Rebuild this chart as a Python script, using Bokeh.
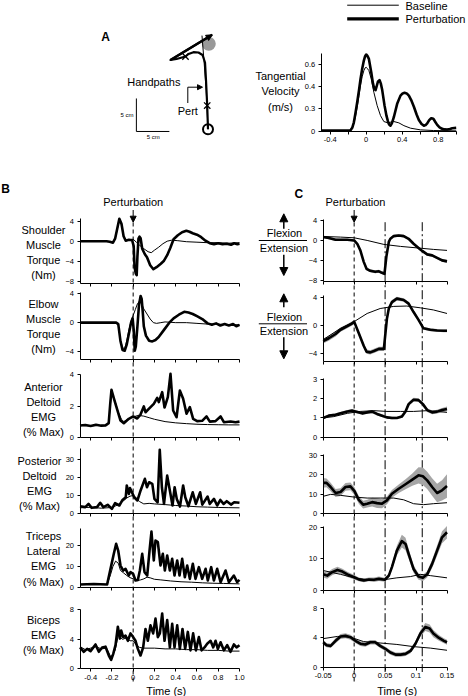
from bokeh.plotting import figure
from bokeh.models import Range1d, LinearAxis, FixedTicker, Arrow, NormalHead
from bokeh.core.properties import value
from bokeh.embed import file_html
from bokeh.resources import INLINE

# ======================= DATA =======================
# ---- Panel A: tangential velocity (m/s) vs time (s)
vel_t_base = [-0.5, -0.3, -0.18, -0.16, -0.137, -0.12, -0.1, -0.08, -0.063, -0.045,
              -0.026, -0.012, 0, 0.012, 0.03, 0.056, 0.085, 0.122, 0.159, 0.196,
              0.241, 0.275, 0.307, 0.363, 0.419, 0.493, 0.604, 0.75, 1.0]
vel_base = [0.003, 0.003, 0.005, 0.03, 0.066, 0.13, 0.216, 0.32, 0.41, 0.49,
            0.545, 0.57, 0.575, 0.565, 0.545, 0.47, 0.35, 0.23, 0.14, 0.087,
            0.075, 0.082, 0.087, 0.075, 0.05, 0.027, 0.012, 0.006, 0.003]
vel_t_pert = [-0.5, -0.3, -0.2, -0.174, -0.155, -0.137, -0.12, -0.1, -0.08, -0.063,
              -0.045, -0.026, -0.012, 0, 0.012, 0.03, 0.056, 0.075, 0.09, 0.104,
              0.115, 0.13, 0.148, 0.162, 0.178, 0.204, 0.225, 0.241, 0.255, 0.27,
              0.285, 0.307, 0.344, 0.381, 0.405, 0.426, 0.45, 0.474, 0.5, 0.53,
              0.56, 0.585, 0.615, 0.641, 0.66, 0.678, 0.7, 0.722, 0.74, 0.752,
              0.77, 0.789, 0.815, 0.844, 0.87, 0.9, 0.93, 0.956, 1.0]
vel_pert = [0.005, 0.005, 0.005, 0.008, 0.03, 0.08, 0.16, 0.26, 0.37, 0.47,
            0.56, 0.635, 0.675, 0.69, 0.68, 0.65, 0.53, 0.43, 0.38, 0.37,
            0.40, 0.445, 0.46, 0.43, 0.37, 0.23, 0.14, 0.09, 0.06, 0.05,
            0.07, 0.126, 0.246, 0.32, 0.34, 0.345, 0.34, 0.32, 0.28, 0.22,
            0.15, 0.10, 0.065, 0.05, 0.055, 0.07, 0.10, 0.117, 0.115, 0.105,
            0.08, 0.057, 0.035, 0.021, 0.016, 0.015, 0.02, 0.027, 0.03]
vel_x_ticks = [-0.4, 0, 0.4, 0.8]
vel_x_labels = ["-0.4", "0", "0.4", "0.8"]
vel_x_minor = [-0.2, 0.2, 0.6, 1.0]
vel_y_ticks = [0, 0.2, 0.4, 0.6]
vel_y_labels = ["0", "0.3", "0.4", "0.6"]

# ---- Panel A: hand paths (cm, origin = start position)
hand_pert_x = [0, -0.12, -0.3, -0.45, -0.83, -1.44, -2.2, -2.95, -3.41, -4.77, -5.68, 0.64]
hand_pert_y = [0, 3.6, 7.39, 10.12, 11.26, 11.64, 11.68, 11.41, 11.03, 10.65, 10.5, 14.32]
hand_base_x = [0, -0.27, -0.61, -0.91]
hand_base_y = [0, 5.88, 10.42, 14.2]
target_x, target_y = [0.12], [12.95]
start_x, start_y = [0], [0]
cross_x = [-0.12, -3.41]
cross_y = [3.6, 11.03]
scale_cm = 5

# ---- Panel B: time (s)
b_x_ticks = [-0.4, -0.2, 0, 0.2, 0.4, 0.6, 0.8, 1.0]
b_x_labels = ["-0.4", "-0.2", "0", "0.2", "0.4", "0.6", "0.8", "1.0"]
pert_time = [0]

# shoulder muscle torque (Nm)
b_sh_t_pert = [-0.5, -0.4, -0.3, -0.25, -0.22, -0.19, -0.17, -0.15, -0.13, -0.11,
               -0.09, -0.07, -0.04, -0.01, 0.005, 0.013, 0.025, 0.033, 0.04, 0.05,
               0.06, 0.07, 0.085, 0.11, 0.13, 0.16, 0.19, 0.22, 0.26, 0.29,
               0.32, 0.35, 0.38, 0.42, 0.46, 0.5, 0.53, 0.56, 0.6, 0.64,
               0.68, 0.72, 0.76, 0.8, 0.84, 0.88, 0.92, 0.95, 0.98, 1.0]
b_sh_pert = [0, 0, 0, 0, -0.1, -0.3, 0.5, 2.5, 4.5, 3.5,
             1.0, 0.1, 0.3, 0.2, -1.0, -5.2, -6.5, -6.8, -3.0, 0.5,
             0.9, 0.6, -1.5, -2.6, -3.2, -4.8, -5.6, -5.2, -4.5, -3.9,
             -2.8, -1.3, 0.4, 1.2, 1.8, 2.1, 1.9, 1.6, 1.3, 0.8,
             0.1, -0.4, -0.6, -0.4, -0.6, -0.5, -0.7, -0.4, -0.6, -0.5]
b_sh_t_base = [-0.5, -0.3, -0.22, -0.19, -0.17, -0.15, -0.13, -0.11, -0.09, -0.07,
               -0.04, 0.0, 0.03, 0.06, 0.1, 0.14, 0.17, 0.2, 0.24, 0.28,
               0.32, 0.36, 0.42, 0.5, 0.6, 0.7, 0.8, 0.9, 1.0]
b_sh_base = [0, 0, -0.1, -0.3, 0.4, 2.3, 4.3, 3.3, 1.0, 0.2,
             0.3, 0.4, -0.2, -0.8, -1.5, -2.1, -2.3, -1.8, -1.2, -0.5,
             0.0, 0.2, 0.1, -0.1, -0.2, -0.3, -0.3, -0.4, -0.3]
b_sh_ticks = [-8, -4, 0, 4]

# elbow muscle torque (Nm)
b_el_t_pert = [-0.5, -0.3, -0.2, -0.16, -0.14, -0.12, -0.1, -0.08, -0.06, -0.04,
               -0.02, -0.005, 0.005, 0.015, 0.025, 0.04, 0.055, 0.07, 0.08, 0.09,
               0.1, 0.12, 0.15, 0.18, 0.21, 0.24, 0.29, 0.34, 0.38, 0.43,
               0.48, 0.52, 0.56, 0.6, 0.65, 0.7, 0.74, 0.78, 0.82, 0.86,
               0.9, 0.94, 0.97, 1.0]
b_el_pert = [0, 0, 0, 0, -0.2, -2.5, -3.8, -3.9, -3.0, -1.5,
             0.0, 0.6, -1.0, -3.9, -3.3, -0.5, 2.5, 3.7, 3.3, 1.5,
             -0.5, -1.8, -2.5, -2.6, -2.4, -2.0, -1.0, 0.0, 0.6, 1.1,
             1.5, 1.4, 1.2, 0.9, 0.5, -0.1, -0.3, -0.1, -0.4, -0.2,
             -0.4, -0.2, -0.5, -0.3]
b_el_t_base = [-0.5, -0.3, -0.16, -0.14, -0.12, -0.1, -0.08, -0.06, -0.04, -0.02,
               0.0, 0.02, 0.04, 0.06, 0.08, 0.1, 0.13, 0.16, 0.19, 0.22,
               0.26, 0.3, 0.4, 0.5, 0.6, 0.7, 0.8, 0.9, 1.0]
b_el_base = [0, 0, 0, -0.3, -2.3, -3.5, -3.6, -2.5, -1.0, 0.2,
             1.0, 1.8, 2.6, 3.0, 2.6, 1.9, 1.2, 0.5, 0.0, -0.1,
             0.0, 0.1, 0.0, 0.0, -0.1, -0.2, -0.2, -0.3, -0.3]
b_el_ticks = [-4, 0, 4]

# anterior deltoid EMG (% max)
b_ad_t_pert = [-0.5, -0.45, -0.4, -0.35, -0.3, -0.26, -0.23, -0.215, -0.204, -0.19,
               -0.18, -0.157, -0.119, -0.088, -0.041, 0.0, 0.038, 0.069, 0.1, 0.116,
               0.147, 0.194, 0.226, 0.241, 0.273, 0.295, 0.326, 0.351, 0.376, 0.408,
               0.439, 0.47, 0.502, 0.533, 0.564, 0.602, 0.649, 0.69, 0.721, 0.774,
               0.822, 0.853, 0.916, 0.963, 1.0]
b_ad_pert = [0.75, 0.78, 0.72, 0.8, 0.74, 0.76, 0.9, 2.2, 3.04, 2.7,
             2.46, 1.93, 1.07, 0.9, 1.18, 1.33, 1.2, 1.45, 1.97, 1.6,
             1.82, 2.14, 2.52, 2.25, 2.89, 1.9, 2.57, 4.06, 1.71, 1.28,
             2.99, 2.46, 1.5, 1.93, 1.18, 1.03, 1.05, 1.33, 1.0, 1.03,
             1.33, 0.96, 1.01, 0.96, 1.0]
b_ad_t_base = [-0.5, -0.4, -0.3, -0.25, -0.23, -0.215, -0.204, -0.19, -0.17, -0.14,
               -0.11, -0.088, -0.05, 0.0, 0.05, 0.1, 0.15, 0.2, 0.3, 0.4,
               0.5, 0.6, 0.7, 0.8, 0.9, 1.0]
b_ad_base = [0.75, 0.73, 0.76, 0.75, 0.9, 2.0, 2.75, 2.6, 2.3, 1.6,
             1.15, 1.0, 1.15, 1.3, 1.4, 1.35, 1.25, 1.15, 1.0, 0.92,
             0.87, 0.83, 0.81, 0.8, 0.79, 0.79]
b_ad_ticks = [0, 2, 4]

# posterior deltoid EMG (% max)
b_pd_t_pert = [-0.5, -0.45, -0.42, -0.39, -0.34, -0.31, -0.28, -0.24, -0.2, -0.17,
               -0.13, -0.1, -0.07, -0.06, -0.04, -0.03, -0.01, 0.01, 0.04, 0.07,
               0.11, 0.13, 0.15, 0.18, 0.2, 0.23, 0.25, 0.27, 0.29, 0.32,
               0.345, 0.37, 0.39, 0.41, 0.44, 0.47, 0.49, 0.52, 0.56, 0.59,
               0.63, 0.65, 0.7, 0.72, 0.76, 0.79, 0.82, 0.85, 0.88, 0.92,
               0.95, 1.0]
b_pd_pert = [3.9, 3.4, 5.2, 3.0, 3.4, 5.8, 3.4, 4.7, 2.4, 5.6,
             4.3, 7.4, 8.9, 15.5, 10.8, 14.0, 11.5, 8.9, 7.1, 12.7,
             19.2, 14.5, 17.3, 16.4, 8.0, 6.1, 35.4, 14.5, 5.2, 21.0,
             12.7, 4.3, 14.5, 8.0, 3.7, 15.5, 8.9, 3.9, 11.7, 5.2,
             11.7, 4.8, 9.3, 5.2, 8.0, 4.3, 7.4, 5.2, 6.7, 4.8,
             6.1, 5.8]
b_pd_t_base = [-0.5, -0.4, -0.3, -0.2, -0.15, -0.1, -0.06, -0.03, 0.0, 0.03,
               0.06, 0.1, 0.15, 0.2, 0.3, 0.4, 0.5, 0.6, 0.7, 0.8,
               0.9, 1.0]
b_pd_base = [3.0, 3.3, 2.8, 3.2, 4.5, 6.5, 8.5, 9.5, 9.9, 8.5,
             6.5, 5.2, 5.5, 5.2, 4.8, 4.3, 4.0, 3.6, 3.4, 3.2,
             3.1, 3.0]
b_pd_ticks = [0, 10, 20, 30]

# triceps lateral EMG (% max)
b_tr_t_pert = [-0.5, -0.37, -0.245, -0.213, -0.182, -0.16, -0.141, -0.119, -0.094, -0.072,
               -0.041, -0.025, 0.0, 0.022, 0.044, 0.063, 0.085, 0.107, 0.132, 0.154,
               0.172, 0.194, 0.21, 0.232, 0.257, 0.279, 0.298, 0.32, 0.345, 0.367,
               0.389, 0.414, 0.436, 0.461, 0.486, 0.508, 0.533, 0.561, 0.586, 0.618,
               0.649, 0.681, 0.702, 0.734, 0.759, 0.79, 0.822, 0.869, 0.9, 0.947,
               0.978, 1.0]
b_tr_pert = [1.3, 1.5, 1.3, 8.8, 16.0, 20.8, 17.6, 10.4, 8.0, 8.8,
             5.6, 7.2, 6.4, 3.2, 3.5, 8.0, 16.0, 7.2, 5.6, 17.6,
             26.7, 12.8, 22.4, 21.6, 10.4, 16.0, 8.0, 15.2, 8.0, 13.6,
             5.6, 12.8, 5.6, 13.6, 4.8, 10.4, 4.0, 11.2, 4.0, 9.6,
             4.0, 8.8, 3.2, 9.6, 3.2, 8.8, 2.4, 8.0, 2.4, 5.6,
             2.4, 3.5]
b_tr_t_base = [-0.5, -0.37, -0.245, -0.213, -0.19, -0.165, -0.14, -0.119, -0.094, -0.06,
               -0.03, 0.0, 0.04, 0.07, 0.1, 0.13, 0.16, 0.2, 0.26, 0.35,
               0.45, 0.55, 0.65, 0.75, 0.85, 1.0]
b_tr_base = [1.3, 1.5, 1.3, 6.0, 10.0, 12.5, 11.5, 8.0, 7.0, 5.6,
             4.6, 4.0, 3.2, 3.5, 4.0, 4.8, 4.5, 3.8, 3.5, 3.0,
             2.6, 2.4, 2.1, 1.9, 1.8, 1.6]
b_tr_ticks = [0, 10, 20]

# biceps EMG (% max)
b_bi_t_pert = [-0.5, -0.464, -0.433, -0.401, -0.354, -0.323, -0.292, -0.26, -0.229, -0.207,
               -0.188, -0.166, -0.144, -0.125, -0.113, -0.094, -0.072, -0.05, -0.025, 0.0,
               0.022, 0.044, 0.069, 0.094, 0.116, 0.138, 0.163, 0.188, 0.21, 0.232,
               0.251, 0.273, 0.295, 0.32, 0.345, 0.367, 0.389, 0.414, 0.439, 0.464,
               0.489, 0.514, 0.539, 0.564, 0.59, 0.618, 0.643, 0.671, 0.696, 0.728,
               0.753, 0.775, 0.796, 0.822, 0.853, 0.884, 0.916, 0.947, 0.972, 1.0]
b_bi_pert = [2.9, 2.3, 2.7, 2.4, 3.3, 2.3, 2.9, 3.0, 1.8, 1.2,
             2.0, 3.2, 5.7, 4.1, 5.2, 4.3, 4.5, 3.8, 4.8, 4.3,
             3.8, 2.7, 1.8, 2.9, 5.4, 3.8, 5.9, 4.8, 6.8, 4.3,
             4.8, 7.5, 3.8, 6.6, 2.9, 6.1, 2.9, 5.9, 2.7, 5.4,
             2.7, 5.0, 2.5, 4.8, 2.5, 4.3, 2.5, 2.9, 3.4, 3.8,
             2.9, 3.8, 2.7, 3.6, 2.5, 3.2, 2.3, 3.3, 2.9, 3.2]
b_bi_t_base = [-0.5, -0.45, -0.4, -0.35, -0.3, -0.25, -0.21, -0.17, -0.14, -0.1,
               -0.06, -0.03, 0.0, 0.03, 0.06, 0.1, 0.2, 0.3, 0.4, 0.5,
               0.6, 0.7, 0.8, 0.9, 1.0]
b_bi_base = [3.0, 2.6, 2.8, 3.0, 2.7, 2.8, 1.6, 2.5, 4.5, 4.0,
             4.2, 3.8, 3.8, 3.2, 2.9, 2.8, 2.8, 2.7, 2.7, 2.6,
             2.6, 2.5, 2.5, 2.4, 2.4]
b_bi_ticks = [0, 4, 8]

# ---- Panel C: time (s), mean (thick) with s.e. band, baseline (thin)
c_x_ticks = [-0.05, 0, 0.05, 0.1, 0.15]
c_x_labels = ["-0.05", "0", "0.05", "0.1", "0.15"]
c_events = [0.05, 0.11]

c_sh_t_pert = [-0.05, -0.041, -0.03, -0.022, -0.011, 0.0, 0.005, 0.01, 0.0155, 0.02,
               0.026, 0.034, 0.04, 0.045, 0.049, 0.052, 0.056, 0.0585, 0.064, 0.072,
               0.08, 0.088, 0.096, 0.104, 0.11, 0.118, 0.126, 0.134, 0.142, 0.15]
c_sh_pert = [0.67, 0.47, 0.13, 0.13, 0.13, 0.0, -0.67, -2.0, -4.3, -5.7,
             -6.1, -6.3, -6.2, -6.5, -6.7, -3.3, -0.3, 0.33, 0.87, 1.0,
             0.87, 0.33, -0.67, -1.5, -2.1, -2.8, -3.0, -3.5, -4.0, -4.2]
c_sh_se = [0.25, 0.25, 0.25, 0.2, 0.2, 0.2, 0.2, 0.25, 0.3, 0.3,
           0.3, 0.3, 0.3, 0.3, 0.3, 0.3, 0.3, 0.25, 0.25, 0.25,
           0.25, 0.25, 0.25, 0.25, 0.25, 0.25, 0.25, 0.25, 0.3, 0.3]
c_sh_t_base = [-0.05, -0.022, 0.0, 0.021, 0.048, 0.075, 0.102, 0.128, 0.15]
c_sh_base = [0.8, 0.67, 0.53, 0.0, -0.8, -1.2, -1.5, -1.8, -2.0]

c_el_t_pert = [-0.05, -0.041, -0.03, -0.022, -0.011, -0.003, 0.0, 0.0075, 0.0156, 0.02,
               0.026, 0.032, 0.04, 0.048, 0.0495, 0.053, 0.056, 0.061, 0.069, 0.08,
               0.088, 0.096, 0.104, 0.112, 0.123, 0.134, 0.145, 0.15]
c_el_pert = [-2.2, -1.8, -1.2, -0.6, -0.1, 0.3, 0.55, -1.1, -2.9, -3.7,
             -3.8, -3.6, -3.3, -3.3, -2.0, 1.0, 2.4, 3.3, 3.8, 3.6,
             3.1, 1.9, 0.8, -0.4, -0.6, -0.7, -0.75, -0.75]
c_el_se = [0.35, 0.35, 0.35, 0.3, 0.3, 0.3, 0.3, 0.3, 0.3, 0.3,
           0.3, 0.3, 0.3, 0.3, 0.3, 0.3, 0.3, 0.3, 0.25, 0.25,
           0.25, 0.25, 0.25, 0.2, 0.2, 0.2, 0.2, 0.2]
c_el_t_base = [-0.05, -0.022, 0.0, 0.021, 0.042, 0.064, 0.085, 0.107, 0.128, 0.15]
c_el_base = [-2.0, -0.4, 0.55, 1.7, 2.4, 2.7, 2.75, 2.5, 2.2, 1.7]

c_ad_t_pert = [-0.05, -0.041, -0.03, -0.022, -0.011, -0.003, 0.005, 0.013, 0.021, 0.029,
               0.037, 0.045, 0.053, 0.061, 0.069, 0.077, 0.083, 0.088, 0.096, 0.104,
               0.111, 0.118, 0.126, 0.134, 0.142, 0.15]
c_ad_pert = [1.0, 1.12, 1.17, 1.24, 1.34, 1.38, 1.31, 1.24, 1.29, 1.33,
             1.21, 1.12, 1.03, 1.0, 1.0, 1.07, 1.34, 1.72, 1.95, 1.93,
             1.72, 1.41, 1.29, 1.33, 1.41, 1.47]
c_ad_se = [0.04, 0.06, 0.07, 0.07, 0.08, 0.08, 0.08, 0.07, 0.07, 0.08,
           0.08, 0.07, 0.07, 0.07, 0.06, 0.07, 0.08, 0.1, 0.1, 0.1,
           0.1, 0.1, 0.1, 0.1, 0.11, 0.12]
c_ad_t_base = [-0.05, -0.033, -0.011, 0.01, 0.032, 0.053, 0.075, 0.096, 0.118, 0.134, 0.15]
c_ad_base = [1.0, 1.07, 1.24, 1.34, 1.38, 1.34, 1.34, 1.34, 1.38, 1.34, 1.29]

c_pd_t_pert = [-0.05, -0.0446, -0.038, -0.03, -0.022, -0.014, -0.006, 0.0005, 0.0075, 0.0145,
               0.021, 0.029, 0.037, 0.045, 0.053, 0.061, 0.072, 0.083, 0.094, 0.104,
               0.111, 0.118, 0.126, 0.134, 0.142, 0.15]
c_pd_pert = [15.9, 15.9, 13.8, 10.7, 11.2, 13.8, 14.1, 11.7, 7.2, 4.7,
             5.2, 6.0, 5.5, 5.2, 6.9, 10.3, 12.9, 15.2, 17.6, 19.8,
             19.3, 17.2, 13.8, 10.7, 12.1, 14.3]
c_pd_se = [2.5, 2.3, 2.2, 2.0, 2.0, 2.0, 2.0, 2.0, 2.0, 2.0,
           2.0, 2.2, 2.5, 2.3, 2.0, 2.0, 2.2, 2.6, 3.2, 4.2,
           4.5, 4.5, 4.5, 4.8, 5.2, 6.0]
c_pd_t_base = [-0.05, -0.038, -0.022, 0.0, 0.021, 0.042, 0.064, 0.08, 0.096, 0.112, 0.128, 0.15]
c_pd_base = [9.0, 10.0, 9.5, 8.6, 8.1, 8.1, 8.1, 7.2, 5.2, 4.7, 5.2, 5.7]

c_tr_t_pert = [-0.05, -0.0435, -0.0355, -0.027, -0.019, -0.011, 0.0, 0.0075, 0.0156, 0.024,
               0.032, 0.04, 0.0495, 0.056, 0.061, 0.069, 0.077, 0.083, 0.088, 0.096,
               0.104, 0.111, 0.118, 0.126, 0.134, 0.142, 0.15]
c_tr_pert = [5.1, 4.7, 5.8, 6.5, 6.0, 5.1, 4.2, 3.5, 3.2, 3.5,
             3.4, 3.7, 3.4, 4.7, 7.4, 12.6, 15.6, 14.7, 11.6, 6.8,
             4.4, 4.0, 5.1, 8.4, 12.6, 16.8, 18.4]
c_tr_se = [1.0, 1.0, 1.0, 1.0, 0.9, 0.8, 0.7, 0.6, 0.6, 0.6,
           0.7, 0.7, 0.6, 0.7, 1.0, 1.5, 2.0, 2.0, 1.6, 1.2,
           1.0, 1.0, 1.0, 1.3, 1.6, 1.9, 2.0]
c_tr_t_base = [-0.05, -0.038, -0.022, 0.0, 0.021, 0.048, 0.069, 0.091, 0.107, 0.123, 0.15]
c_tr_base = [6.3, 5.8, 5.1, 4.0, 3.4, 3.4, 4.0, 4.4, 5.1, 4.7, 4.0]

c_bi_t_pert = [-0.05, -0.0446, -0.038, -0.03, -0.022, -0.014, -0.006, 0.002, 0.01, 0.018,
               0.026, 0.034, 0.042, 0.0505, 0.0586, 0.067, 0.075, 0.083, 0.091, 0.099,
               0.107, 0.115, 0.122, 0.128, 0.137, 0.145, 0.15]
c_bi_pert = [3.4, 3.0, 2.9, 3.6, 4.2, 4.3, 4.1, 3.6, 3.2, 3.1,
             3.4, 3.4, 2.9, 2.5, 2.0, 1.7, 1.7, 1.8, 2.2, 3.2,
             4.6, 5.5, 5.3, 4.6, 4.0, 3.6, 3.4]
c_bi_se = [0.3, 0.3, 0.3, 0.35, 0.35, 0.35, 0.35, 0.3, 0.3, 0.3,
           0.3, 0.3, 0.3, 0.3, 0.3, 0.3, 0.3, 0.3, 0.3, 0.35,
           0.45, 0.55, 0.55, 0.5, 0.4, 0.35, 0.35]
c_bi_t_base = [-0.05, -0.027, -0.006, 0.015, 0.042, 0.069, 0.096, 0.123, 0.15]
c_bi_base = [3.9, 4.2, 4.1, 3.5, 3.3, 3.1, 2.8, 2.6, 2.3]

c_sh_ticks = [-8, -4, 0, 4]
c_el_ticks = [-4, 0, 4]
c_ad_ticks = [0, 1, 2, 3]
c_pd_ticks = [0, 10, 20, 30]
c_tr_ticks = [0, 10, 20]
c_bi_ticks = [0, 4, 8]

# ======================= LAYOUT =======================
FONT = "Liberation Sans"
X0, X1, Y0, Y1 = 0, 468, 0, 696       # canvas in reference-pixel units

p = figure(width=468, height=696, x_range=Range1d(X0, X1), y_range=Range1d(Y1, Y0),
           output_backend="svg", toolbar_location=None,
           x_axis_location=None, y_axis_location=None, min_border=0)
p.outline_line_color = None
p.xgrid.visible = False
p.ygrid.visible = False
p.background_fill_color = "white"
p.border_fill_color = "white"


def xrange_(v1, p1, v2, p2):
    k = (v2 - v1) / (p2 - p1)
    return Range1d(start=v1 + (X0 - p1) * k, end=v1 + (X1 - p1) * k)


def yrange_(v1, p1, v2, p2):
    k = (v2 - v1) / (p2 - p1)
    return Range1d(start=v1 + (Y1 - p1) * k, end=v1 + (Y0 - p1) * k)


xr = {
    "bx": xrange_(-0.5, 79.5, 1.0, 239.0),
    "cx": xrange_(-0.05, 322.7, 0.15, 446.5),
    "vx": xrange_(-0.5, 320.7, 1.0, 455.7),
    "hx": xrange_(0, 207.5, 10, 273.5),
}

B_PANELS = [
    dict(n="b1", tp=b_sh_t_pert, vp=b_sh_pert, tb=b_sh_t_base, vb=b_sh_base, ticks=b_sh_ticks,
         cal=(4, 220.7, -8, 280.7), lo=-8.4, hi=4.5,
         lab=["Shoulder", "Muscle", "Torque", "(Nm)"], ly=[229, 244, 259, 274], lx=43),
    dict(n="b2", tp=b_el_t_pert, vp=b_el_pert, tb=b_el_t_base, vb=b_el_base, ticks=b_el_ticks,
         cal=(4, 293.3, -4, 351.0), lo=-5.1, hi=4.2,
         lab=["Elbow", "Muscle", "Torque", "(Nm)"], ly=[303.3, 318.3, 333.3, 348.3], lx=43),
    dict(n="b3", tp=b_ad_t_pert, vp=b_ad_pert, tb=b_ad_t_base, vb=b_ad_base, ticks=b_ad_ticks,
         cal=(4, 374.3, 0, 436.7), lo=0, hi=4.05,
         lab=["Anterior", "Deltoid", "EMG", "(% Max)"], ly=[386, 401, 416, 431], lx=43),
    dict(n="b4", tp=b_pd_t_pert, vp=b_pd_pert, tb=b_pd_t_base, vb=b_pd_base, ticks=b_pd_ticks,
         cal=(30, 459.0, 0, 512.7), lo=0, hi=36,
         lab=["Posterior", "Deltoid", "EMG", "(% Max)"], ly=[460, 475, 490, 505.7], lx=39),
    dict(n="b5", tp=b_tr_t_pert, vp=b_tr_pert, tb=b_tr_t_base, vb=b_tr_base, ticks=b_tr_ticks,
         cal=(20, 545.0, 0, 586.7), lo=0, hi=28,
         lab=["Triceps", "Lateral", "EMG", "(% Max)"], ly=[535.7, 550.7, 565.7, 581], lx=43),
    dict(n="b6", tp=b_bi_t_pert, vp=b_bi_pert, tb=b_bi_t_base, vb=b_bi_base, ticks=b_bi_ticks,
         cal=(8, 609.3, 0, 668.3), lo=0, hi=8.1,
         lab=["Biceps", "EMG", "(% Max)"], ly=[619, 634, 649], lx=43),
]
C_PANELS = [
    dict(n="c1", tp=c_sh_t_pert, vp=c_sh_pert, se=c_sh_se, tb=c_sh_t_base, vb=c_sh_base,
         ticks=c_sh_ticks, cal=(4, 220.0, -8, 279.8), lo=-8.15, hi=4.3),
    dict(n="c2", tp=c_el_t_pert, vp=c_el_pert, se=c_el_se, tb=c_el_t_base, vb=c_el_base,
         ticks=c_el_ticks, cal=(4, 296.7, -4, 353.3), lo=-5.1, hi=4.2),
    dict(n="c3", tp=c_ad_t_pert, vp=c_ad_pert, se=c_ad_se, tb=c_ad_t_base, vb=c_ad_base,
         ticks=c_ad_ticks, cal=(3, 379.0, 0, 436.7), lo=0, hi=3.05),
    dict(n="c4", tp=c_pd_t_pert, vp=c_pd_pert, se=c_pd_se, tb=c_pd_t_base, vb=c_pd_base,
         ticks=c_pd_ticks, cal=(30, 455.0, 0, 513.3), lo=0, hi=30.5),
    dict(n="c5", tp=c_tr_t_pert, vp=c_tr_pert, se=c_tr_se, tb=c_tr_t_base, vb=c_tr_base,
         ticks=c_tr_ticks, cal=(20, 526.7, 0, 590.0), lo=0, hi=20.2),
    dict(n="c6", tp=c_bi_t_pert, vp=c_bi_pert, se=c_bi_se, tb=c_bi_t_base, vb=c_bi_base,
         ticks=c_bi_ticks, cal=(8, 608.3, 0, 666.5), lo=0, hi=8.1),
]

yr = {P["n"]: yrange_(*P["cal"]) for P in B_PANELS + C_PANELS}
yr["vy"] = yrange_(0.6, 64.0, 0, 130.7)
yr["hy"] = yrange_(0, 128.8, 10, 62.8)
p.extra_x_ranges = xr
p.extra_y_ranges = yr

for P in B_PANELS + C_PANELS:
    assert len(P["tp"]) == len(P["vp"]), P["n"]
    assert len(P["tb"]) == len(P["vb"]), P["n"]
    if "se" in P:
        assert len(P["se"]) == len(P["vp"]), P["n"]
assert len(vel_t_pert) == len(vel_pert) and len(vel_t_base) == len(vel_base)


def style_axis(ax, labels=True, minor=False):
    ax.axis_line_color = "black"
    ax.axis_line_width = 1
    ax.major_tick_line_color = "black"
    ax.major_tick_in = 0
    ax.major_tick_out = 3
    ax.minor_tick_in = 0
    ax.minor_tick_out = 3 if minor else 0
    ax.minor_tick_line_color = "black"
    ax.major_label_text_font = FONT
    ax.major_label_text_font_size = "7.5px"
    ax.major_label_text_color = "black" if labels else None
    ax.major_label_standoff = 3


def yaxis(xname, yname, xloc, ticks, lo, hi, overrides=None):
    ax = LinearAxis(x_range_name=xname, y_range_name=yname, fixed_location=xloc,
                    bounds=(lo, hi), ticker=FixedTicker(ticks=ticks, minor_ticks=[]))
    style_axis(ax)
    if overrides:
        ax.major_label_overrides = overrides
    p.add_layout(ax, "left")


def xaxis(xname, yname, yloc, ticks, lo, hi, labels=None, minor=None):
    ax = LinearAxis(x_range_name=xname, y_range_name=yname, fixed_location=yloc,
                    bounds=(lo, hi), ticker=FixedTicker(ticks=ticks, minor_ticks=minor or []))
    style_axis(ax, labels is not None, minor is not None)
    if labels is not None:
        ax.major_label_overrides = dict(zip(ticks, labels))
    p.add_layout(ax, "below")


def txt(x, y, s, size=11, align="center", bold=False, **kw):
    p.text(x=[x], y=[y], text=[s], text_font=value(FONT), text_font_size=f"{size}px",
           text_align=align, text_baseline="middle", text_color="black",
           text_font_style="bold" if bold else "normal", **kw)


THIN, THICK = 1.0, 2.6
BAND = "#a6a6a6"

# ---------------- Legend ----------------
p.line([346.7, 398.3], [4.7, 4.7], line_color="black", line_width=1)
p.line([346.7, 398.3], [18.3, 18.3], line_color="black", line_width=3.2)
txt(405, 5.2, "Baseline", align="left")
txt(405, 18.6, "Perturbation", align="left")

# ---------------- Panel A: hand paths ----------------
txt(105, 36, "A", size=12, bold=True)
p.scatter(target_x, target_y, x_range_name="hx", y_range_name="hy", marker="circle",
          size=14, fill_color="#999999", line_color=None)
p.line(hand_base_x, hand_base_y, x_range_name="hx", y_range_name="hy",
       line_color="black", line_width=1)
p.line(hand_pert_x, hand_pert_y, x_range_name="hx", y_range_name="hy",
       line_color="black", line_width=2.2, line_join="round")
p.add_layout(Arrow(end=NormalHead(size=6, fill_color="black", line_color="black"),
                   x_start=hand_pert_x[-2], y_start=hand_pert_y[-2],
                   x_end=hand_pert_x[-1], y_end=hand_pert_y[-1],
                   x_range_name="hx", y_range_name="hy", line_width=2.2))
p.scatter(cross_x, cross_y, x_range_name="hx", y_range_name="hy", marker="x",
          size=9, line_color="black", line_width=1.3)
p.scatter(start_x, start_y, x_range_name="hx", y_range_name="hy", marker="circle",
          size=10, fill_color=None, line_color="black", line_width=2)
# scale bar (5 cm each way)
sb_x, sb_y = -10.85, -0.33
p.line([sb_x, sb_x, sb_x + scale_cm], [sb_y + scale_cm, sb_y, sb_y],
       x_range_name="hx", y_range_name="hy", line_color="black", line_width=1)
txt(126.5, 114.3, "5 cm", size=6)
txt(152.7, 136.7, "5 cm", size=6)
txt(153.3, 81.7, "Handpaths")
txt(187.3, 110.5, "Pert")
p.line([187.3, 187.3], [102.5, 86.7], line_color="black", line_width=1)
p.add_layout(Arrow(end=NormalHead(size=5, fill_color="black", line_color="black"),
                   x_start=187.3, y_start=86.7, x_end=202.0, y_end=86.7, line_width=1))

# ---------------- Panel A: velocity ----------------
for s, y in zip(["Tangential", "Velocity", "(m/s)"], [75, 90.7, 106]):
    txt(280, y, s)
p.line(vel_t_base, vel_base, x_range_name="vx", y_range_name="vy",
       line_color="black", line_width=THIN)
p.line(vel_t_pert, vel_pert, x_range_name="vx", y_range_name="vy",
       line_color="black", line_width=THICK, line_join="round")
yaxis("vx", "vy", -0.5, vel_y_ticks, 0, 0.7, overrides=dict(zip(vel_y_ticks, vel_y_labels)))
xaxis("vx", "vy", 0, vel_x_ticks, -0.5, 1.0, labels=vel_x_labels, minor=vel_x_minor)

# ---------------- Panel B ----------------
txt(5, 188.3, "B", size=12, bold=True)
txt(132.7, 201.7, "Perturbation")
p.add_layout(Arrow(end=NormalHead(size=6, fill_color="black", line_color="black"),
                   x_start=pert_time[0], y_start=209.5, x_end=pert_time[0], y_end=221.7,
                   x_range_name="bx", line_width=1))
p.segment(x0=pert_time, y0=[222], x1=pert_time, y1=[683], x_range_name="bx",
          line_color="black", line_width=1, line_dash="4 3")
for i, P in enumerate(B_PANELS):
    p.line(P["tb"], P["vb"], x_range_name="bx", y_range_name=P["n"],
           line_color="black", line_width=THIN)
    p.line(P["tp"], P["vp"], x_range_name="bx", y_range_name=P["n"],
           line_color="black", line_width=THICK, line_join="round")
    yaxis("bx", P["n"], -0.5, P["ticks"], P["lo"], P["hi"])
    last = i == len(B_PANELS) - 1
    xaxis("bx", P["n"], P["lo"], b_x_ticks, -0.5, 1.0,
          labels=b_x_labels if last else None)
    for s, y in zip(P["lab"], P["ly"]):
        txt(P["lx"], y, s)
txt(165.8, 690, "Time (s)")

# ---------------- Panel C ----------------
txt(298.3, 193.3, "C", size=12, bold=True)
txt(355, 201.7, "Perturbation")
p.add_layout(Arrow(end=NormalHead(size=6, fill_color="black", line_color="black"),
                   x_start=pert_time[0], y_start=209.5, x_end=pert_time[0], y_end=221.7,
                   x_range_name="cx", line_width=1))
p.segment(x0=pert_time, y0=[222], x1=pert_time, y1=[683], x_range_name="cx",
          line_color="black", line_width=1, line_dash="4 3")
p.segment(x0=c_events, y0=[221.7] * 2, x1=c_events, y1=[671.5] * 2, x_range_name="cx",
          line_color="black", line_width=1, line_dash="9 3 2 3")
for i, P in enumerate(C_PANELS):
    lo_b = [a - s for a, s in zip(P["vp"], P["se"])]
    hi_b = [a + s for a, s in zip(P["vp"], P["se"])]
    p.varea(x=P["tp"], y1=lo_b, y2=hi_b, x_range_name="cx", y_range_name=P["n"],
            fill_color=BAND)
    p.line(P["tb"], P["vb"], x_range_name="cx", y_range_name=P["n"],
           line_color="black", line_width=THIN)
    p.line(P["tp"], P["vp"], x_range_name="cx", y_range_name=P["n"],
           line_color="black", line_width=THICK, line_join="round")
    yaxis("cx", P["n"], -0.05, P["ticks"], P["lo"], P["hi"])
    last = i == len(C_PANELS) - 1
    xaxis("cx", P["n"], P["lo"], c_x_ticks, -0.05, 0.15,
          labels=c_x_labels if last else None)
txt(396.7, 690, "Time (s)")

# flexion / extension indicators
for up_s, up_e, fy, ly, ey, dn_s, dn_e in [(228.3, 213.3, 232.7, 240.0, 247.3, 254.3, 275.0),
                                          (306.7, 293.3, 316.7, 323.3, 330.7, 336.7, 358.3)]:
    p.add_layout(Arrow(end=NormalHead(size=8, fill_color="black", line_color="black"),
                       x_start=283.3, y_start=up_s, x_end=283.3, y_end=up_e, line_width=1.5))
    p.add_layout(Arrow(end=NormalHead(size=8, fill_color="black", line_color="black"),
                       x_start=283.3, y_start=dn_s, x_end=283.3, y_end=dn_e, line_width=1.5))
    txt(284, fy, "Flexion")
    p.line([258.3, 306.5], [ly, ly], line_color="black", line_width=1)
    txt(283.5, ey, "Extension")

open("out.html", "w").write(file_html(p, INLINE, "Figure"))
